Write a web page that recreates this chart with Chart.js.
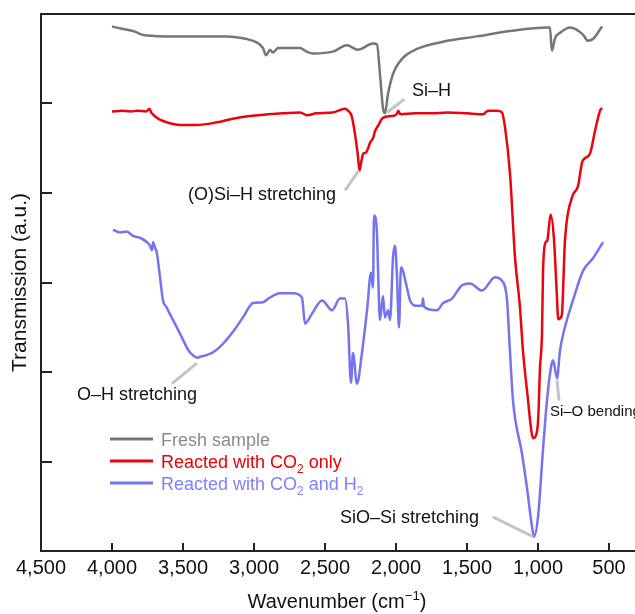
<!DOCTYPE html>
<html>
<head>
<meta charset="utf-8">
<script src="https://cdn.jsdelivr.net/npm/chart.js@4.4.1/dist/chart.umd.min.js"></script>
<style>
  html, body { margin: 0; padding: 0; background: #fff; }
</style>
</head>
<body>
<canvas id="myChart" width="635" height="614"></canvas>
<script>
// FTIR spectra, wavenumber (cm-1) vs transmission (a.u., offset traces)
const xTicks = [500, 1000, 1500, 2000, 2500, 3000, 3500, 4000, 4500];
const yTicks = [0, 1, 2, 3, 4, 5, 6];

const freshWn = [4000, 3944, 3852, 3790, 3746, 3613, 3400, 3190, 3051, 2979, 2937, 2916, 2901, 2887, 2866, 2831, 2676, 2629, 2585, 2444, 2345, 2268, 2162, 2134, 2113, 2092, 2078, 2056, 2021, 1951, 1852, 1669, 1430, 1197, 937, 916, 902, 880, 845, 775, 683, 648, 613, 549];
const freshT = [5.86, 5.84, 5.81, 5.77, 5.76, 5.75, 5.75, 5.75, 5.72, 5.68, 5.62, 5.54, 5.57, 5.60, 5.57, 5.62, 5.62, 5.58, 5.56, 5.58, 5.65, 5.60, 5.67, 5.66, 5.33, 4.95, 4.89, 5.11, 5.33, 5.51, 5.61, 5.69, 5.75, 5.81, 5.85, 5.85, 5.59, 5.73, 5.79, 5.85, 5.77, 5.70, 5.72, 5.86];

const co2Wn = [4000, 3930, 3870, 3820, 3760, 3737, 3720, 3662, 3615, 3521, 3401, 3261, 3150, 3028, 2900, 2796, 2676, 2627, 2560, 2444, 2359, 2338, 2312, 2289, 2270, 2257, 2247, 2230, 2213, 2199, 2183, 2160, 2148, 2127, 2092, 2030, 1995, 1984, 1970, 1866, 1750, 1634, 1500, 1387, 1352, 1289, 1254, 1232, 1197, 1162, 1127, 1106, 1070, 1045, 1033, 1009, 998, 986, 972, 965, 951, 935, 911, 887, 869, 857, 833, 810, 761, 718, 690, 669, 634, 599, 563, 549];
const co2T = [4.91, 4.92, 4.91, 4.92, 4.91, 4.94, 4.89, 4.82, 4.79, 4.76, 4.76, 4.79, 4.83, 4.86, 4.88, 4.89, 4.90, 4.87, 4.89, 4.90, 4.94, 4.92, 4.86, 4.66, 4.44, 4.25, 4.33, 4.44, 4.45, 4.49, 4.56, 4.62, 4.69, 4.75, 4.84, 4.86, 4.88, 4.92, 4.88, 4.89, 4.89, 4.90, 4.89, 4.88, 4.92, 4.92, 4.90, 4.73, 4.21, 3.28, 2.72, 2.24, 1.68, 1.32, 1.26, 1.32, 1.50, 2.05, 2.43, 3.10, 3.43, 3.47, 3.76, 3.47, 2.91, 2.59, 2.63, 3.47, 3.95, 4.08, 4.34, 4.39, 4.44, 4.69, 4.92, 4.95];

const h2Wn = [3993, 3944, 3896, 3852, 3803, 3754, 3732, 3718, 3711, 3697, 3683, 3662, 3641, 3615, 3570, 3544, 3509, 3472, 3451, 3394, 3380, 3333, 3289, 3240, 3148, 3078, 3007, 2937, 2900, 2817, 2725, 2662, 2641, 2592, 2521, 2451, 2394, 2359, 2338, 2317, 2303, 2275, 2240, 2204, 2176, 2162, 2155, 2134, 2127, 2113, 2092, 2078, 2056, 2042, 2021, 2007, 1993, 1979, 1965, 1951, 1923, 1901, 1852, 1817, 1810, 1803, 1711, 1669, 1606, 1535, 1479, 1394, 1303, 1254, 1218, 1200, 1176, 1113, 1078, 1042, 1028, 1000, 965, 937, 909, 894, 866, 845, 817, 754, 683, 613, 542];
const h2T = [3.59, 3.56, 3.57, 3.52, 3.50, 3.45, 3.41, 3.36, 3.45, 3.39, 3.32, 3.06, 2.80, 2.72, 2.58, 2.50, 2.39, 2.27, 2.22, 2.16, 2.17, 2.19, 2.22, 2.28, 2.45, 2.61, 2.77, 2.78, 2.82, 2.88, 2.88, 2.83, 2.54, 2.65, 2.80, 2.69, 2.82, 2.82, 2.54, 1.88, 2.21, 1.87, 2.21, 2.69, 3.11, 2.94, 3.75, 3.55, 3.17, 2.58, 2.85, 2.61, 2.69, 2.58, 3.28, 3.41, 3.06, 2.50, 3.17, 3.13, 2.94, 2.80, 2.74, 2.74, 2.82, 2.73, 2.69, 2.77, 2.82, 2.97, 2.99, 2.91, 3.06, 3.02, 2.80, 2.30, 1.68, 1.09, 0.71, 0.27, 0.16, 0.38, 1.13, 1.68, 2.05, 2.13, 1.93, 2.24, 2.46, 2.80, 3.13, 3.27, 3.45];

const seriesNames = ['Fresh sample', 'Reacted with CO2 only', 'Reacted with CO2 and H2'];
const seriesColors = ['#767676', '#e8050f', '#7474ee'];
const legendColors = ['#8a8a8a', '#ee0000', '#7f7fff'];

const FONT = "'Liberation Sans', Arial, sans-serif";

const toPoints = (wn, t) => wn.map((w, i) => ({ x: w, y: t[i] }));

// text labels with a light leader line, anchored in data units
const notes = [
  { text: 'Si–H', size: 18, tx: 1887, ty: 5.14, lx1: 2063, ly1: 4.90, lx2: 1940, ly2: 5.05 },
  { text: '(O)Si–H stretching', size: 18, tx: 3465, ty: 3.98, lx1: 2262, ly1: 4.25, lx2: 2359, ly2: 4.03 },
  { text: 'O–H stretching', size: 18, tx: 4246, ty: 1.74, lx1: 3401, ly1: 2.10, lx2: 3578, ly2: 1.87 },
  { text: 'Si–O bending', size: 15, tx: 916, ty: 1.55, lx1: 866, ly1: 1.91, lx2: 852, ly2: 1.68 },
  { text: 'SiO–Si stretching', size: 18, tx: 2394, ty: 0.37, lx1: 1035, ly1: 0.16, lx2: 1317, ly2: 0.38 }
];

// write text pieces, some of them sub/superscript
function drawRich(ctx, parts, x, y, size, color) {
  ctx.fillStyle = color;
  ctx.textBaseline = 'alphabetic';
  ctx.textAlign = 'left';
  let cx = x;
  parts.forEach(p => {
    let s = size, dy = 0;
    if (p.sub) { s = size * 0.66; dy = size * 0.28; }
    if (p.sup) { s = size * 0.66; dy = -size * 0.42; }
    ctx.font = s + 'px ' + FONT;
    ctx.fillText(p.t, cx, y + dy);
    cx += ctx.measureText(p.t).width;
  });
  return cx - x;
}
function richWidth(ctx, parts, size) {
  let w = 0;
  parts.forEach(p => {
    const s = (p.sub || p.sup) ? size * 0.66 : size;
    ctx.font = s + 'px ' + FONT;
    w += ctx.measureText(p.t).width;
  });
  return w;
}

const extras = {
  id: 'extras',
  afterDraw(chart) {
    const ctx = chart.ctx;
    const xs = chart.scales.x, ys = chart.scales.y;
    const area = chart.chartArea;
    ctx.save();

    // top frame line
    ctx.strokeStyle = '#222';
    ctx.lineWidth = 2;
    ctx.beginPath();
    ctx.moveTo(area.left, area.top);
    ctx.lineTo(area.right, area.top);
    ctx.stroke();

    // inward tick marks
    ctx.beginPath();
    xTicks.forEach(v => {
      const px = Math.round(xs.getPixelForValue(v));
      ctx.moveTo(px, area.bottom);
      ctx.lineTo(px, area.bottom - 8);
    });
    yTicks.forEach(v => {
      const py = Math.round(ys.getPixelForValue(v));
      ctx.moveTo(area.left, py);
      ctx.lineTo(area.left + 11, py);
    });
    ctx.stroke();

    // annotations
    notes.forEach(n => {
      ctx.strokeStyle = '#c4c4c4';
      ctx.lineWidth = 3;
      ctx.beginPath();
      ctx.moveTo(xs.getPixelForValue(n.lx1), ys.getPixelForValue(n.ly1));
      ctx.lineTo(xs.getPixelForValue(n.lx2), ys.getPixelForValue(n.ly2));
      ctx.stroke();
      ctx.fillStyle = '#111';
      ctx.font = n.size + 'px ' + FONT;
      ctx.textAlign = 'left';
      ctx.textBaseline = 'middle';
      ctx.fillText(n.text, xs.getPixelForValue(n.tx), ys.getPixelForValue(n.ty));
    });

    // legend
    const legendParts = [
      [{ t: 'Fresh sample' }],
      [{ t: 'Reacted with CO' }, { t: '2', sub: true }, { t: ' only' }],
      [{ t: 'Reacted with CO' }, { t: '2', sub: true }, { t: ' and H' }, { t: '2', sub: true }]
    ];
    const rowY = [439, 461, 483];
    legendParts.forEach((parts, i) => {
      ctx.strokeStyle = seriesColors[i];
      ctx.lineWidth = 3;
      ctx.beginPath();
      ctx.moveTo(110, rowY[i]);
      ctx.lineTo(153, rowY[i]);
      ctx.stroke();
      drawRich(ctx, parts, 161, rowY[i] + 6.5, 18, legendColors[i]);
    });

    // x axis title
    const titleParts = [{ t: 'Wavenumber (cm' }, { t: '−1', sup: true }, { t: ')' }];
    const tw = richWidth(ctx, titleParts, 20);
    drawRich(ctx, titleParts, 337 - tw / 2, 608, 20, '#111');

    ctx.restore();
  }
};

new Chart(document.getElementById('myChart'), {
  type: 'line',
  data: {
    datasets: [
      { label: seriesNames[0], data: toPoints(freshWn, freshT), borderColor: seriesColors[0] },
      { label: seriesNames[1], data: toPoints(co2Wn, co2T), borderColor: seriesColors[1] },
      { label: seriesNames[2], data: toPoints(h2Wn, h2T), borderColor: seriesColors[2] }
    ]
  },
  options: {
    responsive: false,
    animation: false,
    devicePixelRatio: 1,
    layout: { padding: { top: 14, right: 0, left: 0, bottom: 0 } },
    plugins: { legend: { display: false }, tooltip: { enabled: false } },
    elements: {
      point: { radius: 0 },
      line: { borderWidth: 2.5, cubicInterpolationMode: 'monotone', fill: false }
    },
    scales: {
      x: {
        type: 'linear',
        reverse: true,
        min: 317,
        max: 4500,
        afterBuildTicks: s => { s.ticks = xTicks.map(v => ({ value: v })); },
        afterFit: s => { s.height = 63; },
        grid: { drawOnChartArea: false, drawTicks: false },
        border: { display: true, color: '#222', width: 2 },
        ticks: {
          padding: 5,
          color: '#111',
          maxRotation: 0,
          autoSkip: false,
          font: { family: FONT, size: 20 },
          callback: v => v.toLocaleString('en-US')
        }
      },
      y: {
        type: 'linear',
        min: 0,
        max: 6,
        afterBuildTicks: s => { s.ticks = yTicks.map(v => ({ value: v })); },
        afterFit: s => { s.width = 41; },
        grid: { drawOnChartArea: false, drawTicks: false },
        border: { display: true, color: '#222', width: 2 },
        ticks: { display: false },
        title: {
          display: true,
          text: 'Transmission (a.u.)',
          color: '#111',
          font: { family: FONT, size: 21 },
          padding: { top: 8, bottom: 0 }
        }
      }
    }
  },
  plugins: [extras]
});
</script>
</body>
</html>
